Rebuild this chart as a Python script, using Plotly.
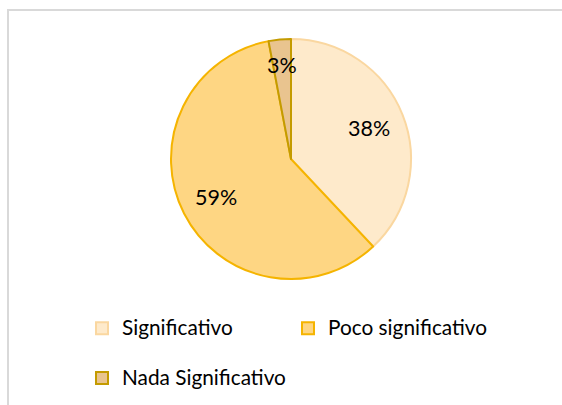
import math
import plotly.graph_objects as go

categories = ["Significativo", "Poco significativo", "Nada Significativo"]
values = [38, 59, 3]
fill_colors = ["#FEEACB", "#FED683", "#E9C48F"]
line_colors = ["#FAD7A0", "#F5B400", "#C49B00"]
label_radius = [0.70, 0.70, 0.79]  # data-label distance from centre, as fraction of radius

W, H = 562, 405
FONT = "Lato"
LEG_SIZE = 20.8

dom_x = [171 / W, 411 / W]
dom_y = [1 - 279 / H, 1 - 39 / H]

legend_labels = [
    '<span style="font-size:%.1fpx">' % LEG_SIZE + c + "</span><br>&nbsp;" for c in categories
]

fig = go.Figure(
    go.Pie(
        labels=legend_labels,
        values=values,
        sort=False,
        direction="clockwise",
        rotation=0,
        marker=dict(colors=fill_colors, line=dict(color=line_colors, width=2)),
        textinfo="none",
        domain=dict(x=dom_x, y=dom_y),
        hoverinfo="percent",
    )
)

# data labels placed at the middle angle of each slice (clockwise from 12 o'clock)
cx = (dom_x[0] + dom_x[1]) / 2 * W
cy = (1 - (dom_y[0] + dom_y[1]) / 2) * H
R = min((dom_x[1] - dom_x[0]) * W, (dom_y[1] - dom_y[0]) * H) / 2
total = sum(values)
cum = 0
annotations = []
for v, rf in zip(values, label_radius):
    mid = (cum + v / 2) / total * 2 * math.pi
    cum += v
    px = cx + rf * R * math.sin(mid)
    py = cy - rf * R * math.cos(mid)
    annotations.append(
        dict(
            x=px / W,
            y=1 - py / H,
            xref="paper",
            yref="paper",
            text="%d%%" % round(v / total * 100),
            showarrow=False,
            xanchor="center",
            yanchor="middle",
            font=dict(family=FONT, size=21.5, color="#000000"),
        )
    )

fig.update_layout(
    width=W,
    height=H,
    margin=dict(l=0, r=0, t=0, b=0, autoexpand=False),
    paper_bgcolor="white",
    plot_bgcolor="white",
    font=dict(family=FONT, color="#000000"),
    showlegend=True,
    annotations=annotations,
    legend=dict(
        orientation="h",
        x=82 / W,
        y=1 - 310 / H,
        xanchor="left",
        yanchor="top",
        entrywidth=161,
        valign="top",
        font=dict(family=FONT, size=18, color="#000000"),
        bgcolor="rgba(0,0,0,0)",
    ),
    shapes=[
        dict(
            type="rect",
            xref="paper",
            yref="paper",
            x0=8 / W,
            y0=-0.1,
            x1=1.1,
            y1=1 - 10 / H,
            line=dict(color="#D9D9D9", width=2),
            fillcolor="rgba(0,0,0,0)",
            layer="below",
        )
    ],
)

fig.write_html(
    "out.html",
    config={"displayModeBar": False},
    post_script="document.body.style.margin='0px';",
)
